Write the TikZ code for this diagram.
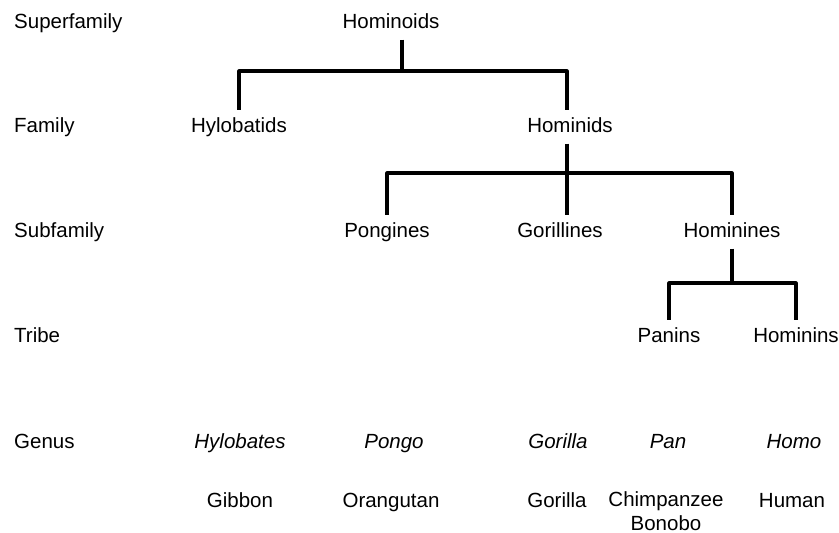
\documentclass[tikz,border=0pt]{standalone}
\usepackage{fontspec}
\setmainfont{Liberation Sans}
\usetikzlibrary{calc}
\tikzset{
  rank/.style={anchor=base west, inner sep=0pt, font=\fontsize{20.5}{24}\selectfont},
  taxon/.style={anchor=base, inner sep=7pt, text height=15pt, text depth=4.5pt,
    font=\fontsize{20.5}{24}\selectfont},
  genus/.style={taxon, font=\fontsize{20.5}{24}\selectfont\itshape},
  branch/.style={line width=3.1pt, line join=round}
}

\begin{document}
\begin{tikzpicture}[x=1pt, y=-1pt]
  \useasboundingbox (0,0) rectangle (839,533);

  % 分叉点
  \coordinate (J1) at (402,71);
  \coordinate (J2) at (567,173);
  \coordinate (J3) at (732,283);

  % 层级名称
  \node [rank] (superfamily) at (14,28) {Superfamily};
  \node [rank] (family) at (14,132) {Family};
  \node [rank] (subfamily) at (14,237) {Subfamily};
  \node [rank] (tribe) at (14,342) {Tribe};
  \node [rank] (genusrow) at (14,448) {Genus};

  % 分类单元
  \node [taxon] (hominoids) at (391,28) {Hominoids};
  \node [taxon] (hylobatids) at (239,132) {Hylobatids};
  \node [taxon] (hominids) at (570,132) {Hominids};
  \node [taxon] (pongines) at (387,237) {Pongines};
  \node [taxon] (gorillines) at (560,237) {Gorillines};
  \node [taxon] (hominines) at (732,237) {Hominines};
  \node [taxon] (panins) at (669,342) {Panins};
  \node [taxon] (hominins) at (796,342) {Hominins};

  % 属
  \node [genus] (hylobates) at (240,448) {Hylobates};
  \node [genus] (pongo) at (394,448) {Pongo};
  \node [genus] (gorilla) at (558,448) {Gorilla};
  \node [genus] (pan) at (668,448) {Pan};
  \node [genus] (homo) at (794,448) {Homo};

  % 俗名
  \node [taxon] (gibbon) at (240,507) {Gibbon};
  \node [taxon] (orangutan) at (391,507) {Orangutan};
  \node [taxon] (gorillaname) at (557,507) {Gorilla};
  \node [taxon, align=center, inner sep=0pt, text depth=0pt] (chimp) at (666,530) {Chimpanzee\\Bonobo};
  \node [taxon] (human) at (792,507) {Human};

  % 连线
  \draw [branch] (hominoids.south -| J1) -- (J1);
  \draw [branch] (hylobatids.north) |- (J1) -| (hominids.north -| J2);
  \draw [branch] (hominids.south -| J2) -- (gorillines.north -| J2);
  \draw [branch] (pongines.north) |- (J2) -| (hominines.north);
  \draw [branch] (hominines.south) -- (J3);
  \draw [branch] (panins.north) |- (J3) -| (hominins.north);
\end{tikzpicture}
\end{document}
